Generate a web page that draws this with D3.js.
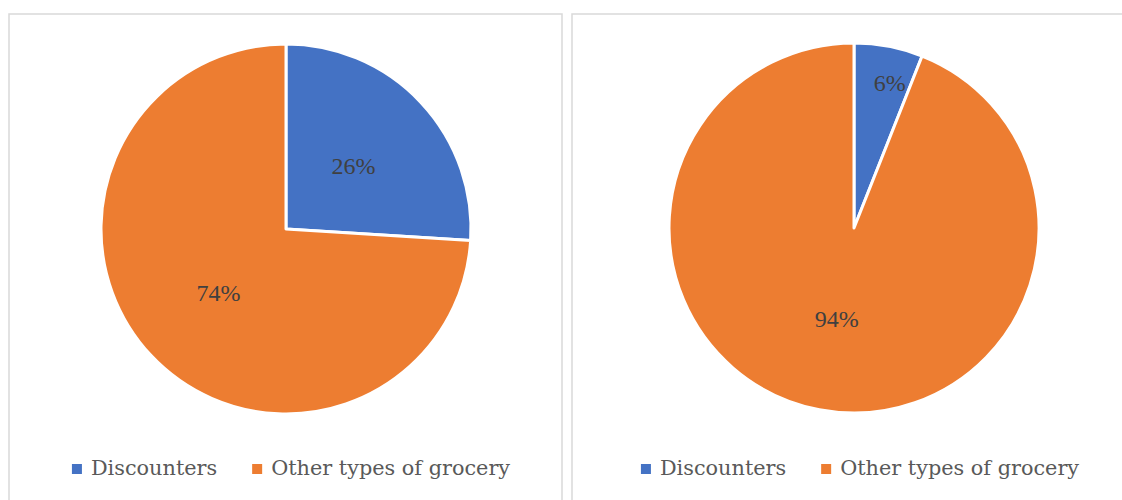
<!DOCTYPE html>
<html>
<head>
<meta charset="utf-8">
<script src="https://cdn.jsdelivr.net/npm/d3@7"></script>
<style>
  html, body { margin: 0; padding: 0; background: #fff; }
  svg { display: block; }
</style>
</head>
<body>
<svg id="chart" width="1122" height="500"></svg>
<script>
// Share of grocery sales by store type, two periods
const categories = ["Discounters", "Other types of grocery"];
const leftValues = [26, 74];
const rightValues = [6, 94];
const colors = ["#4472C4", "#ED7D31"];

const svg = d3.select("#chart");

// Panel frames
const panels = [
  { x: 9, y: 14, w: 553, h: 520, cx: 286, cy: 229, legendX: 291, values: leftValues },
  { x: 572, y: 14, w: 580, h: 520, cx: 854, cy: 228, legendX: 860, values: rightValues }
];

const radius = 185;
const color = d3.scaleOrdinal().domain(categories).range(colors);
const pie = d3.pie().sort(null).value(d => d.value);
const arc = d3.arc().innerRadius(0).outerRadius(radius);
const labelArc = d3.arc().innerRadius(radius * 0.5).outerRadius(radius * 0.5);
const smallLabelArc = d3.arc().innerRadius(radius * 0.8).outerRadius(radius * 0.8);

panels.forEach(p => {
  svg.append("rect")
    .attr("x", p.x).attr("y", p.y)
    .attr("width", p.w).attr("height", p.h)
    .attr("fill", "#fff")
    .attr("stroke", "#d9d9d9")
    .attr("stroke-width", 1.5);

  const data = categories.map((c, i) => ({ name: c, value: p.values[i] }));
  const arcs = pie(data);

  const g = svg.append("g").attr("transform", `translate(${p.cx},${p.cy})`);

  g.selectAll("path.slice")
    .data(arcs)
    .join("path")
    .attr("class", "slice")
    .attr("d", arc)
    .attr("fill", d => color(d.data.name))
    .attr("stroke", "#fff")
    .attr("stroke-width", 3)
    .attr("stroke-linejoin", "round");

  g.selectAll("text.pct")
    .data(arcs)
    .join("text")
    .attr("class", "pct")
    .attr("transform", d => {
      const small = (d.endAngle - d.startAngle) < 0.5;
      const [x, y] = (small ? smallLabelArc : labelArc).centroid(d);
      return `translate(${x + (small ? 8 : 0)},${y})`;
    })
    .attr("text-anchor", "middle")
    .attr("dy", "0.35em")
    .attr("font-family", "'Liberation Serif', 'Times New Roman', serif")
    .attr("font-size", 24)
    .attr("fill", "#404040")
    .text(d => d.data.value + "%");

  // Legend
  const lg = svg.append("g");
  const items = lg.selectAll("g.item")
    .data(categories)
    .join("g")
    .attr("class", "item");

  items.append("rect")
    .attr("width", 10).attr("height", 10)
    .attr("fill", d => color(d));

  items.append("text")
    .attr("x", 19)
    .attr("y", 11)
    .attr("font-family", "'DejaVu Serif', serif")
    .attr("font-size", 20.8)
    .attr("fill", "#595959")
    .text(d => d);

  let offset = 0;
  const gap = 35;
  items.each(function () {
    const w = 19 + d3.select(this).select("text").node().getComputedTextLength();
    d3.select(this).attr("transform", `translate(${offset},0)`);
    offset += w + gap;
  });
  const total = offset - gap;
  lg.attr("transform", `translate(${p.legendX - total / 2},${464})`);
});
</script>
</body>
</html>
